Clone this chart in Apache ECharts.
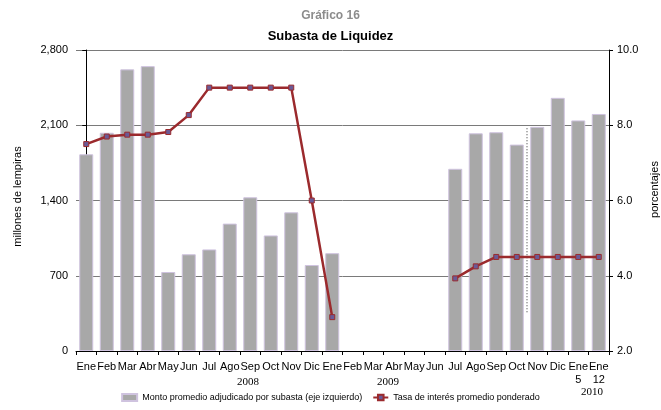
<!DOCTYPE html>
<html>
<head>
<meta charset="utf-8">
<script src="https://cdn.jsdelivr.net/npm/echarts@6/dist/echarts.min.js"></script>
<style>
  html, body { margin: 0; padding: 0; background: #fff; }
  #chart { width: 661px; height: 410px; }
</style>
</head>
<body>
<div id="chart"></div>
<script>
// categorias (meses 2008-2009 y semanas de enero 2010)
const categories = [
  'Ene', 'Feb', 'Mar', 'Abr', 'May', 'Jun', 'Jul', 'Ago', 'Sep', 'Oct', 'Nov', 'Dic',
  'Ene', 'Feb', 'Mar', 'Abr', 'May', 'Jun', 'Jul', 'Ago', 'Sep', 'Oct', 'Nov', 'Dic',
  'Ene\n5', 'Ene\n12'
]
const yearLabels = ['2008', '2009', '2010']

// monto promedio adjudicado (millones de lempiras)
const montoPromedio = [
  1830, 2030, 2620, 2650, 735, 900, 945, 1185, 1430, 1075, 1290, 800,
  910, null, null, null, null, null, 1695, 2025, 2035, 1920, 2085, 2355,
  2145, 2205
]

// tasa de interes promedio ponderado (%)
const tasaPromedio = [
  7.5, 7.7, 7.75, 7.75, 7.82, 8.27, 9.0, 9.0, 9.0, 9.0, 9.0, 6.0,
  2.9, null, null, null, null, null, 3.93, 4.25, 4.5, 4.5, 4.5, 4.5,
  4.5, 4.5
]

// linea punteada entre Oct y Nov 2009 (eje izquierdo)
const separador = [[21.5, 360], [21.5, 2080]]

const font = 'Liberation Sans, Arial, sans-serif'

let chart = echarts.init(document.getElementById('chart'))

let options = {
  animation: false,
  textStyle: { fontFamily: font },
  title: [
    {
      text: 'Gráfico 16',
      left: 'center',
      top: 5,
      textStyle: { fontSize: 12, fontWeight: 'bold', color: '#8c8c8c', fontFamily: font }
    },
    {
      text: 'Subasta de Liquidez',
      left: 'center',
      top: 25,
      textStyle: { fontSize: 13, fontWeight: 'bold', color: '#000', fontFamily: font }
    }
  ],
  legend: {
    bottom: 3,
    left: 'center',
    itemGap: 10,
    itemWidth: 15,
    itemHeight: 7,
    textStyle: { fontSize: 9, color: '#000', fontFamily: font },
    data: [
      { name: 'Monto promedio adjudicado por subasta (eje izquierdo)', icon: 'rect' },
      { name: 'Tasa de interés promedio ponderado' }
    ]
  },
  grid: { left: 76, right: 52, top: 50, bottom: 59, outerBoundsMode: 'none', containLabel: false },
  xAxis: [
    {
      type: 'category',
      data: categories,
      boundaryGap: true,
      axisLine: { lineStyle: { color: '#000', width: 1 } },
      axisTick: { show: true, interval: 0, length: 4, lineStyle: { color: '#000' } },
      axisLabel: { interval: 0, fontSize: 11, color: '#000', margin: 9, lineHeight: 13, fontFamily: font, hideOverlap: false }
    },
    {
      type: 'value',
      show: false,
      min: -0.5,
      max: 25.5
    }
  ],
  yAxis: [
    {
      type: 'value',
      min: 0,
      max: 2800,
      interval: 700,
      name: 'millones de lempiras',
      nameLocation: 'middle',
      nameGap: 53,
      nameTextStyle: { fontSize: 11, color: '#000', fontFamily: font, padding: [0, 0, 0, 8] },
      axisLine: { show: true, lineStyle: { color: '#000' } },
      axisTick: { show: true, length: 4, lineStyle: { color: '#000' } },
      axisLabel: {
        fontSize: 11,
        color: '#000',
        margin: 8,
        formatter: v => v.toLocaleString('en-US')
      },
      splitLine: { show: true, lineStyle: { color: '#7a7a7a', width: 1 } }
    },
    {
      type: 'value',
      min: 2,
      max: 10,
      interval: 2,
      position: 'right',
      name: 'porcentajes',
      nameLocation: 'middle',
      nameGap: 38,
      nameRotate: 90,
      nameTextStyle: { fontSize: 11, color: '#000', fontFamily: font, padding: [0, 0, 0, 22] },
      axisLine: { show: true, lineStyle: { color: '#000' } },
      axisTick: { show: true, length: 4, lineStyle: { color: '#000' } },
      axisLabel: {
        fontSize: 11,
        color: '#000',
        margin: 8,
        formatter: v => v.toFixed(1)
      },
      splitLine: { show: false }
    }
  ],
  series: [
    {
      name: 'Monto promedio adjudicado por subasta (eje izquierdo)',
      type: 'bar',
      xAxisIndex: 0,
      yAxisIndex: 0,
      data: montoPromedio,
      barWidth: 14,
      itemStyle: { color: '#a8a8a8', borderColor: '#cfc3df', borderWidth: 1 }
    },
    {
      name: 'Tasa de interés promedio ponderado',
      type: 'line',
      xAxisIndex: 0,
      yAxisIndex: 1,
      data: tasaPromedio,
      connectNulls: false,
      symbol: 'rect',
      symbolSize: 5,
      lineStyle: { color: '#9b2a2d', width: 2.5 },
      itemStyle: { color: '#6a5a96', borderColor: '#9b2a2d', borderWidth: 1 },
      z: 5
    },
    {
      name: 'separador',
      type: 'line',
      xAxisIndex: 1,
      yAxisIndex: 0,
      data: separador,
      symbol: 'none',
      silent: true,
      lineStyle: { color: '#555', width: 1.2, type: [1, 2] },
      z: 4
    }
  ],
  graphic: [
    { type: 'text', x: 248, y: 382, style: { text: yearLabels[0], font: '11px "Liberation Serif", serif', fill: '#000', textAlign: 'center', textVerticalAlign: 'middle' } },
    { type: 'text', x: 388, y: 382, style: { text: yearLabels[1], font: '11px "Liberation Serif", serif', fill: '#000', textAlign: 'center', textVerticalAlign: 'middle' } },
    { type: 'text', x: 592, y: 392, style: { text: yearLabels[2], font: '11px "Liberation Serif", serif', fill: '#000', textAlign: 'center', textVerticalAlign: 'middle' } }
  ]
}

chart.setOption(options)
window.addEventListener('resize', function () {
  chart.resize()
})
</script>
</body>
</html>
